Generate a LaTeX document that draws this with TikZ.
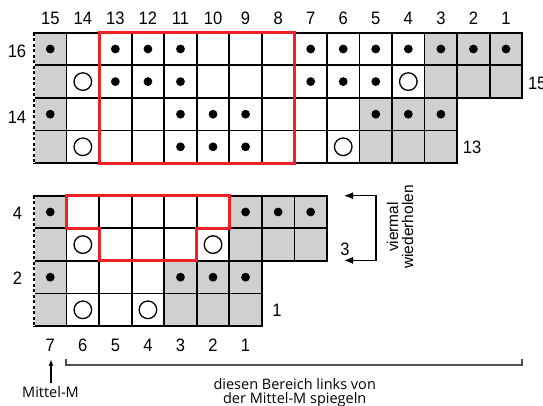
\documentclass[tikz,border=0pt]{standalone}
\usepackage{fontspec}
\setmainfont{Open Sans}
\newfontfamily\numfont[FakeStretch=0.92]{Liberation Sans}
\newfontfamily\arialfont{Liberation Sans}
\usetikzlibrary{arrows.meta}
\definecolor{cellgray}{RGB}{208,208,208}
\definecolor{chartred}{RGB}{238,34,38}
\definecolor{bracketgray}{RGB}{80,80,80}
\newcommand{\cw}{32.55}
\newcommand{\ch}{32.6}
\newcommand{\knitrow}[4]{%
  \foreach \f/\m [count=\i from 0] in {#4} {%
    \pgfmathsetmacro{\xa}{#1+\i*\cw}%
    \pgfmathsetmacro{\ya}{#2+#3*\ch}%
    \draw[gridline, c\f] (\xa,\ya) rectangle ++(\cw,\ch);%
    \path[mk\m] ({\xa+\cw/2},{\ya+\ch/2}) circle[];%
  }%
}
\tikzset{
  gridline/.style={draw=black, line width=1.7pt},
  cG/.style={fill=cellgray},
  cW/.style={fill=white},
  mkd/.style={fill=black, radius=4.4pt},
  mko/.style={draw=black, line width=1.3pt, radius=8.8pt},
  mkn/.style={radius=0.1pt},
  redline/.style={draw=chartred, line width=3pt, line join=miter},
  dashedge/.style={draw=black, line width=1.3pt, dash pattern=on 3pt off 2.5pt},
  whiteedge/.style={draw=white, line width=2.6pt},
  num/.style={font=\numfont\fontsize{18}{20}\selectfont, inner sep=0pt},
  txt/.style={font=\fontsize{14.5}{14.6}\selectfont, inner sep=0pt},
  vtxt/.style={font=\arialfont\fontsize{15.5}{15}\selectfont, inner sep=0pt, rotate=90, anchor=base},
  arrowline/.style={draw=black, line width=1.2pt},
  bracketline/.style={draw=bracketgray, line width=1.2pt},
}
\begin{document}
\begin{tikzpicture}[x=1pt, y=-1pt]
\useasboundingbox (0,0) rectangle (543,406);
\fill[white] (0,0) rectangle (543,406);
% ---------- top chart ----------
\knitrow{34}{32.7}{0}{G/d,W/n,W/d,W/d,W/d,W/n,W/n,W/n,W/d,W/d,W/d,W/d,G/d,G/d,G/d}
\knitrow{34}{32.7}{1}{G/n,W/o,W/d,W/d,W/d,W/n,W/n,W/n,W/d,W/d,W/d,W/o,G/n,G/n,G/n}
\knitrow{34}{32.7}{2}{G/d,W/n,W/n,W/n,W/d,W/d,W/d,W/n,W/n,W/n,G/d,G/d,G/d}
\knitrow{34}{32.7}{3}{G/n,W/o,W/n,W/n,W/d,W/d,W/d,W/n,W/n,W/o,G/n,G/n,G/n}
\draw[whiteedge] (34,32.7) -- (34,163.1);
\draw[dashedge] (34,32.7) -- (34,163.1);
\draw[redline] ({34+2*\cw},32.7) rectangle ({34+8*\cw},163.1);
% column numbers top
\foreach \c [count=\i from 0] in {15,14,...,1}
  \node[num] (tn\c) at ({34+(\i+0.5)*\cw},18.3) {\c};
\node[num] (tr16) at (17,51) {16};
\node[num] (tr14) at (17,117.8) {14};
\node[num, anchor=west] (tr15) at (527.8,83.5) {15};
\node[num] (tr13) at (472,147.2) {13};
% ---------- bottom chart ----------
\knitrow{34}{195.7}{0}{G/d,W/n,W/n,W/n,W/n,W/n,G/d,G/d,G/d}
\knitrow{34}{195.7}{1}{G/n,W/o,W/n,W/n,W/n,W/o,G/n,G/n,G/n}
\knitrow{34}{195.7}{2}{G/d,W/n,W/n,W/n,G/d,G/d,G/d}
\knitrow{34}{195.7}{3}{G/n,W/o,W/n,W/o,G/n,G/n,G/n}
\draw[whiteedge] (34,195.7) -- (34,326.1);
\draw[dashedge] (34,195.7) -- (34,326.1);
\draw[redline] ({34+\cw},195.7) -- ({34+6*\cw},195.7) -- ({34+6*\cw},{195.7+\ch})
  -- ({34+5*\cw},{195.7+\ch}) -- ({34+5*\cw},{195.7+2*\ch}) -- ({34+2*\cw},{195.7+2*\ch})
  -- ({34+2*\cw},{195.7+\ch}) -- ({34+\cw},{195.7+\ch}) -- cycle;
\foreach \c [count=\i from 0] in {7,6,...,1}
  \node[num] (bn\c) at ({34+(\i+0.5)*\cw},345.7) {\c};
\node[num] (br4) at (17.5,213.3) {4};
\node[num] (br2) at (17.5,278) {2};
\node[num] (br3) at (345,249.6) {3};
\node[num] (br1) at (277,310) {1};
% repeat arrows
\coordinate (rtA) at (344,195.7);
\coordinate (rcA) at (376,195.7);
\coordinate (rcB) at (376,260.4);
\coordinate (rtB) at (344,260.4);
\draw[arrowline, {Latex[length=9pt,width=7pt]}-{Latex[length=9pt,width=7pt]}] (rtA) -- (rcA) -- (rcB) -- (rtB);
\node[vtxt] (vm1) at (398,227) {viermal};
\node[vtxt] (vm2) at (413,227) {wiederholen};
% Mittel-M
\node[txt] (mm) at (50.5,391.7) {Mittel-M};
\coordinate (mmTail) at (51,383);
\coordinate (mmTip) at (51,359.5);
\draw[line width=1.6pt, -{Latex[length=6pt,width=5pt]}] (mmTail) -- (mmTip);
% bracket
\coordinate (bkA) at (66,359);
\coordinate (bkB) at (522,359);
\draw[bracketline] (bkA) -- ++(0,6) -| (bkB);
\node[txt, align=center, anchor=north] (bt) at (294.7,377.8) {diesen Bereich links von\\der Mittel-M spiegeln};
\end{tikzpicture}
\end{document}
